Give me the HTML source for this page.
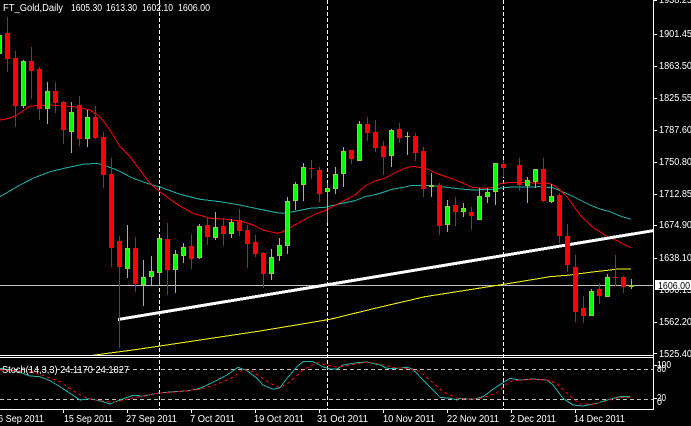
<!DOCTYPE html>
<html><head><meta charset="utf-8"><style>
html,body{margin:0;padding:0;background:#000;width:691px;height:426px;overflow:hidden}
svg{display:block}
text{font-family:"Liberation Sans",sans-serif;font-size:10px;fill:#fff}
</style></head><body>
<svg width="691" height="426" viewBox="0 0 691 426" xmlns="http://www.w3.org/2000/svg" shape-rendering="crispEdges">
<rect x="0" y="0" width="691" height="426" fill="#000"/>
<defs>
<clipPath id="mc"><rect x="0" y="0" width="653" height="355"/></clipPath>
<clipPath id="sc"><rect x="0" y="358" width="653" height="51"/></clipPath>
</defs>

<!-- separators -->
<g stroke="#fff" stroke-width="1" stroke-dasharray="4,2">
<line x1="159.5" y1="0" x2="159.5" y2="409"/>
<line x1="327.5" y1="0" x2="327.5" y2="409"/>
<line x1="503.5" y1="0" x2="503.5" y2="409"/>
</g>

<g clip-path="url(#mc)">
<!-- gray current price line -->
<rect x="0" y="285" width="653" height="1" fill="#c0c0c0"/>
<!-- yellow MA -->
<polyline fill="none" stroke="#ffff00" stroke-width="1" points="88,356 110,353 133,350 160,346 210,338.5 260,331 330,319.3 375,308.3 425,296.7 495,285.7 510,283.3 530,280 550,276.7 570,275 590,272.3 610,270 618,269 631,269"/>
<!-- teal MA -->
<polyline fill="none" stroke="#20b2aa" stroke-width="1" points="0,196.7 20,185 33,178.3 50,171.7 67,167.7 83,164.3 97,163.3 103,165 117,170 133,178.3 147,183.3 160,187 180,194.3 200,199.3 220,201.7 240,205 260,209.3 277,212.7 283,213.3 293,211.7 310,208.3 325,207.3 342,203.3 355,200.7 365,196.7 378,194 392,189.3 405,187 412,185.3 425,185.3 442,186.7 458,188.7 472,190 492,189.3 507,187.3 523,187 540,186.7 553,187.7 560,190.7 570,195 580,200 590,205 600,209 610,211.7 620,216 631,219.3"/>
<!-- red MA -->
<polyline fill="none" stroke="#ff0000" stroke-width="1" points="0,120 10,118 17,115 30,106 50,105 77,107 90,110 100,116.7 110,130 120,146.7 130,156.7 140,170 150,183.3 160,191.7 170,199.3 180,206 193,213.3 210,218.3 227,219.3 243,221.7 253,225 263,230 277,233.3 283,231.7 293,226 307,218.3 317,213.3 325,210.7 342,201.7 355,195 365,186 375,181 385,178.3 395,172.7 405,168.3 412,166.3 418,167 428,169.3 438,174 452,178.7 462,182.7 472,187.3 485,188.3 495,187.3 500,183.7 510,182.3 520,182.3 530,182.7 540,183.3 550,183.7 555,186 560,190 567,196.7 573,205 580,215 587,221.7 593,227.3 600,231.7 607,236.7 617,240.7 623,244 631,247.7"/>
<!-- trend line -->
<line x1="118" y1="319.5" x2="660" y2="229.5" stroke="#fff" stroke-width="3"/>

<!-- bear candles -->
<g fill="#ff0000">
<rect x="7" y="17" width="1" height="55"/><rect x="5" y="33" width="5" height="26"/>
<rect x="15" y="51" width="1" height="76"/><rect x="13" y="58" width="5" height="48"/>
<rect x="31" y="47" width="1" height="52"/><rect x="29" y="61" width="5" height="10"/>
<rect x="39" y="67" width="1" height="53"/><rect x="37" y="69" width="5" height="40"/>
<rect x="55" y="82" width="1" height="31"/><rect x="53" y="91" width="5" height="12"/>
<rect x="63" y="101" width="1" height="43"/><rect x="61" y="102" width="5" height="28"/>
<rect x="79" y="96" width="1" height="50"/><rect x="77" y="105" width="5" height="34"/>
<rect x="95" y="106" width="1" height="33"/><rect x="93" y="117" width="5" height="21"/>
<rect x="103" y="132" width="1" height="56"/><rect x="101" y="137" width="5" height="38"/>
<rect x="111" y="158" width="1" height="109"/><rect x="109" y="174" width="5" height="74"/>
<rect x="119" y="236" width="1" height="112"/><rect x="117" y="241" width="5" height="26"/>
<rect x="135" y="237" width="1" height="55"/><rect x="133" y="248" width="5" height="36"/>
<rect x="167" y="223" width="1" height="72"/><rect x="165" y="239" width="5" height="31"/>
<rect x="191" y="234" width="1" height="35"/><rect x="189" y="246" width="5" height="13"/>
<rect x="207" y="217" width="1" height="28"/><rect x="205" y="225" width="5" height="12"/>
<rect x="223" y="218" width="1" height="28"/><rect x="221" y="226" width="5" height="8"/>
<rect x="239" y="209" width="1" height="27"/><rect x="237" y="220" width="5" height="11"/>
<rect x="247" y="225" width="1" height="43"/><rect x="245" y="230" width="5" height="14"/>
<rect x="255" y="235" width="1" height="22"/><rect x="253" y="242" width="5" height="12"/>
<rect x="263" y="252" width="1" height="36"/><rect x="261" y="253" width="5" height="21"/>
<rect x="311" y="160" width="1" height="19"/><rect x="309" y="168" width="5" height="1"/>
<rect x="319" y="167" width="1" height="35"/><rect x="317" y="170" width="5" height="24"/>
<rect x="351" y="150" width="1" height="14"/><rect x="349" y="150" width="5" height="9"/>
<rect x="367" y="117" width="1" height="24"/><rect x="365" y="124" width="5" height="9"/>
<rect x="375" y="120" width="1" height="32"/><rect x="373" y="132" width="5" height="16"/>
<rect x="383" y="141" width="1" height="34"/><rect x="381" y="146" width="5" height="11"/>
<rect x="399" y="123" width="1" height="20"/><rect x="397" y="129" width="5" height="9"/>
<rect x="415" y="133" width="1" height="28"/><rect x="413" y="136" width="5" height="17"/>
<rect x="423" y="147" width="1" height="50"/><rect x="421" y="151" width="5" height="38"/>
<rect x="439" y="183" width="1" height="52"/><rect x="437" y="185" width="5" height="41"/>
<rect x="455" y="197" width="1" height="29"/><rect x="453" y="205" width="5" height="7"/>
<rect x="471" y="207" width="1" height="23"/><rect x="469" y="212" width="5" height="4"/>
<rect x="503" y="160" width="1" height="17"/><rect x="501" y="164" width="5" height="4"/>
<rect x="519" y="158" width="1" height="33"/><rect x="517" y="165" width="5" height="20"/>
<rect x="543" y="158" width="1" height="44"/><rect x="541" y="169" width="5" height="32"/>
<rect x="559" y="193" width="1" height="50"/><rect x="557" y="195" width="5" height="41"/>
<rect x="567" y="224" width="1" height="48"/><rect x="565" y="236" width="5" height="29"/>
<rect x="575" y="255" width="1" height="67"/><rect x="573" y="267" width="5" height="45"/>
<rect x="583" y="296" width="1" height="27"/><rect x="581" y="308" width="5" height="8"/>
<rect x="599" y="283" width="1" height="21"/><rect x="597" y="289" width="5" height="7"/>
<rect x="615" y="255" width="1" height="31"/><rect x="613" y="277" width="5" height="1"/>
<rect x="623" y="276" width="1" height="17"/><rect x="621" y="277" width="5" height="10"/>
</g>

<!-- bull candles: wicks + outlines -->
<g fill="#9acd32">
<rect x="-1" y="30" width="1" height="28"/><rect x="-3" y="35" width="5" height="19"/>
<rect x="23" y="60" width="1" height="48"/><rect x="21" y="61" width="5" height="45"/>
<rect x="47" y="82" width="1" height="42"/><rect x="45" y="91" width="5" height="18"/>
<rect x="71" y="102" width="1" height="51"/><rect x="69" y="112" width="5" height="20"/>
<rect x="87" y="110" width="1" height="37"/><rect x="85" y="117" width="5" height="22"/>
<rect x="127" y="225" width="1" height="53"/><rect x="125" y="248" width="5" height="21"/>
<rect x="143" y="260" width="1" height="46"/><rect x="141" y="277" width="5" height="8"/>
<rect x="151" y="256" width="1" height="29"/><rect x="149" y="271" width="5" height="6"/>
<rect x="159" y="238" width="1" height="47"/><rect x="157" y="238" width="5" height="35"/>
<rect x="175" y="250" width="1" height="43"/><rect x="173" y="254" width="5" height="16"/>
<rect x="183" y="243" width="1" height="20"/><rect x="181" y="247" width="5" height="9"/>
<rect x="199" y="224" width="1" height="35"/><rect x="197" y="226" width="5" height="32"/>
<rect x="215" y="212" width="1" height="28"/><rect x="213" y="227" width="5" height="11"/>
<rect x="231" y="219" width="1" height="19"/><rect x="229" y="222" width="5" height="12"/>
<rect x="271" y="249" width="1" height="31"/><rect x="269" y="257" width="5" height="17"/>
<rect x="279" y="238" width="1" height="23"/><rect x="277" y="245" width="5" height="11"/>
<rect x="287" y="197" width="1" height="57"/><rect x="285" y="201" width="5" height="45"/>
<rect x="295" y="182" width="1" height="28"/><rect x="293" y="184" width="5" height="17"/>
<rect x="303" y="163" width="1" height="38"/><rect x="301" y="167" width="5" height="18"/>
<rect x="327" y="183" width="1" height="40"/><rect x="325" y="188" width="5" height="4"/>
<rect x="335" y="167" width="1" height="27"/><rect x="333" y="174" width="5" height="15"/>
<rect x="343" y="147" width="1" height="40"/><rect x="341" y="151" width="5" height="23"/>
<rect x="359" y="121" width="1" height="40"/><rect x="357" y="124" width="5" height="37"/>
<rect x="391" y="129" width="1" height="38"/><rect x="389" y="130" width="5" height="26"/>
<rect x="407" y="132" width="1" height="23"/><rect x="405" y="136" width="5" height="1"/>
<rect x="431" y="173" width="1" height="24"/><rect x="429" y="185" width="5" height="2"/>
<rect x="447" y="200" width="1" height="32"/><rect x="445" y="206" width="5" height="19"/>
<rect x="463" y="203" width="1" height="14"/><rect x="461" y="208" width="5" height="4"/>
<rect x="479" y="188" width="1" height="32"/><rect x="477" y="196" width="5" height="24"/>
<rect x="487" y="188" width="1" height="15"/><rect x="485" y="192" width="5" height="5"/>
<rect x="495" y="163" width="1" height="42"/><rect x="493" y="163" width="5" height="29"/>
<rect x="527" y="177" width="1" height="26"/><rect x="525" y="180" width="5" height="6"/>
<rect x="535" y="169" width="1" height="19"/><rect x="533" y="169" width="5" height="13"/>
<rect x="551" y="184" width="1" height="19"/><rect x="549" y="196" width="5" height="6"/>
<rect x="591" y="289" width="1" height="27"/><rect x="589" y="291" width="5" height="25"/>
<rect x="607" y="274" width="1" height="23"/><rect x="605" y="277" width="5" height="20"/>
<rect x="631" y="279" width="1" height="10"/><rect x="629" y="285" width="5" height="2"/>
</g>
<!-- bull inner fills -->
<g fill="#00ff00">
<rect x="-2" y="36" width="3" height="17"/>
<rect x="22" y="62" width="3" height="43"/>
<rect x="46" y="92" width="3" height="16"/>
<rect x="70" y="113" width="3" height="18"/>
<rect x="86" y="118" width="3" height="20"/>
<rect x="126" y="249" width="3" height="19"/>
<rect x="142" y="278" width="3" height="6"/>
<rect x="150" y="272" width="3" height="4"/>
<rect x="158" y="239" width="3" height="33"/>
<rect x="174" y="255" width="3" height="14"/>
<rect x="182" y="248" width="3" height="7"/>
<rect x="198" y="227" width="3" height="30"/>
<rect x="214" y="228" width="3" height="9"/>
<rect x="230" y="223" width="3" height="10"/>
<rect x="270" y="258" width="3" height="15"/>
<rect x="278" y="246" width="3" height="9"/>
<rect x="286" y="202" width="3" height="43"/>
<rect x="294" y="185" width="3" height="15"/>
<rect x="302" y="168" width="3" height="16"/>
<rect x="326" y="189" width="3" height="2"/>
<rect x="334" y="175" width="3" height="13"/>
<rect x="342" y="152" width="3" height="21"/>
<rect x="358" y="125" width="3" height="35"/>
<rect x="390" y="131" width="3" height="24"/>
<rect x="446" y="207" width="3" height="17"/>
<rect x="462" y="209" width="3" height="2"/>
<rect x="478" y="197" width="3" height="22"/>
<rect x="486" y="193" width="3" height="3"/>
<rect x="494" y="164" width="3" height="27"/>
<rect x="526" y="181" width="3" height="4"/>
<rect x="534" y="170" width="3" height="11"/>
<rect x="550" y="197" width="3" height="4"/>
<rect x="590" y="292" width="3" height="23"/>
<rect x="606" y="278" width="3" height="18"/>
</g>
</g>

<!-- stochastic -->
<g stroke="#c0c0c0" stroke-width="1" stroke-dasharray="4,3">
<line x1="0" y1="369.5" x2="653" y2="369.5"/>
<line x1="0" y1="399.5" x2="653" y2="399.5"/>
</g>
<g clip-path="url(#sc)">
<polyline fill="none" stroke="#20b2aa" stroke-width="1" points="0,368.3 10,370 20,372.3 30,376 40,376.7 50,380.7 60,386.7 70,393.3 80,400 90,398.7 100,401 110,404 120,400 133,395.3 143,396 157,393.3 173,391.7 187,391 200,388.3 213,382.3 227,375 238,367.3 247,370.7 257,378.3 263,385 273,389.3 280,387.7 287,378.3 297,366.7 303,361.7 313,361.7 323,366.7 330,369 337,369 343,365 357,362.7 367,362 380,365 387,368.3 397,368.3 407,367.3 413,369.3 423,380 433,390 440,397.3 450,398.3 457,400 460,398.3 473,399.3 483,396.7 493,389.3 503,382.7 510,378.3 520,380 533,379 547,380 553,385 563,398.3 573,405 583,406 597,403.3 607,400 620,396.7 630,396.7"/>
<polyline fill="none" stroke="#ff0000" stroke-width="1" stroke-dasharray="3,3" points="0,370 33,371.7 60,381.7 77,393.3 87,398.3 100,400.7 113,402.3 127,399.3 140,396.7 157,393.3 187,390.7 200,389.3 217,384.3 233,377.3 243,369.3 253,371.7 270,383.3 280,387.7 290,381.7 303,370 317,362.7 327,365 337,367.3 350,365 367,362 380,364.3 393,367.3 410,369 420,371.7 430,380 443,391.7 457,398.3 470,399.3 483,398 497,392.7 507,383.3 513,380.7 530,379.3 547,380 557,383.3 567,393.3 580,404 593,404.3 607,400.7 620,397.3 630,397.3"/>
</g>

<!-- frames -->
<g fill="#fff">
<rect x="653" y="0" width="1" height="410"/>
<rect x="0" y="355" width="654" height="1"/>
<rect x="0" y="357" width="654" height="1"/>
<rect x="0" y="409" width="654" height="1"/>
<!-- price ticks -->
<rect x="654" y="0" width="3" height="1"/>
<rect x="654" y="34" width="3" height="1"/>
<rect x="654" y="66" width="3" height="1"/>
<rect x="654" y="98" width="3" height="1"/>
<rect x="654" y="130" width="3" height="1"/>
<rect x="654" y="162" width="3" height="1"/>
<rect x="654" y="194" width="3" height="1"/>
<rect x="654" y="225" width="3" height="1"/>
<rect x="654" y="258" width="3" height="1"/>
<rect x="654" y="322" width="3" height="1"/>
<rect x="654" y="353" width="3" height="1"/>
<rect x="654" y="365" width="3" height="1"/>
<rect x="654" y="398" width="3" height="1"/>
<!-- date ticks -->
<rect x="63" y="410" width="1" height="3"/>
<rect x="127" y="410" width="1" height="3"/>
<rect x="191" y="410" width="1" height="3"/>
<rect x="255" y="410" width="1" height="3"/>
<rect x="319" y="410" width="1" height="3"/>
<rect x="383" y="410" width="1" height="3"/>
<rect x="447" y="410" width="1" height="3"/>
<rect x="511" y="410" width="1" height="3"/>
<rect x="575" y="410" width="1" height="3"/>
</g>

<!-- title -->
<text x="3" y="11" textLength="60" lengthAdjust="spacingAndGlyphs">FT_Gold,Daily</text>
<text x="71" y="11" textLength="31" lengthAdjust="spacingAndGlyphs">1605.30</text>
<text x="106" y="11" textLength="31" lengthAdjust="spacingAndGlyphs">1613.30</text>
<text x="142" y="11" textLength="31" lengthAdjust="spacingAndGlyphs">1602.10</text>
<text x="178" y="11" textLength="32" lengthAdjust="spacingAndGlyphs">1606.00</text>

<!-- stoch label -->
<text x="2" y="373" textLength="127" lengthAdjust="spacingAndGlyphs">Stoch(14,3,3) 24.1170 24.1827</text>

<!-- price labels -->
<g>
<text x="659" y="3" textLength="33" lengthAdjust="spacingAndGlyphs">1938.25</text>
<text x="659" y="37" textLength="33" lengthAdjust="spacingAndGlyphs">1901.45</text>
<text x="659" y="69" textLength="33" lengthAdjust="spacingAndGlyphs">1863.50</text>
<text x="659" y="101" textLength="33" lengthAdjust="spacingAndGlyphs">1825.55</text>
<text x="659" y="133" textLength="33" lengthAdjust="spacingAndGlyphs">1787.60</text>
<text x="659" y="165" textLength="33" lengthAdjust="spacingAndGlyphs">1750.80</text>
<text x="659" y="197" textLength="33" lengthAdjust="spacingAndGlyphs">1712.85</text>
<text x="659" y="228" textLength="33" lengthAdjust="spacingAndGlyphs">1674.90</text>
<text x="659" y="261" textLength="33" lengthAdjust="spacingAndGlyphs">1638.10</text>
<text x="659" y="293" textLength="33" lengthAdjust="spacingAndGlyphs">1600.15</text>
<text x="659" y="325" textLength="33" lengthAdjust="spacingAndGlyphs">1562.20</text>
<text x="659" y="357" textLength="33" lengthAdjust="spacingAndGlyphs">1525.40</text>
</g>
<rect x="655" y="280" width="36" height="10" fill="#fff"/>
<text x="658" y="289" textLength="32" lengthAdjust="spacingAndGlyphs" style="fill:#000">1606.00</text>

<!-- stoch axis labels -->
<text x="657" y="368" textLength="14" lengthAdjust="spacingAndGlyphs">100</text>
<text x="657" y="372" textLength="9" lengthAdjust="spacingAndGlyphs">80</text>
<text x="657" y="401" textLength="9" lengthAdjust="spacingAndGlyphs">20</text>
<text x="657" y="405" textLength="5" lengthAdjust="spacingAndGlyphs">0</text>

<!-- date labels -->
<text x="-2" y="422" textLength="46" lengthAdjust="spacingAndGlyphs">6 Sep 2011</text>
<text x="64" y="422" textLength="49" lengthAdjust="spacingAndGlyphs">15 Sep 2011</text>
<text x="126" y="422" textLength="51" lengthAdjust="spacingAndGlyphs">27 Sep 2011</text>
<text x="190" y="422" textLength="45" lengthAdjust="spacingAndGlyphs">7 Oct 2011</text>
<text x="254" y="422" textLength="50" lengthAdjust="spacingAndGlyphs">19 Oct 2011</text>
<text x="317" y="422" textLength="51" lengthAdjust="spacingAndGlyphs">31 Oct 2011</text>
<text x="383" y="422" textLength="52" lengthAdjust="spacingAndGlyphs">10 Nov 2011</text>
<text x="447" y="422" textLength="52" lengthAdjust="spacingAndGlyphs">22 Nov 2011</text>
<text x="510" y="422" textLength="46" lengthAdjust="spacingAndGlyphs">2 Dec 2011</text>
<text x="574" y="422" textLength="51" lengthAdjust="spacingAndGlyphs">14 Dec 2011</text>
</svg>
</body></html>
